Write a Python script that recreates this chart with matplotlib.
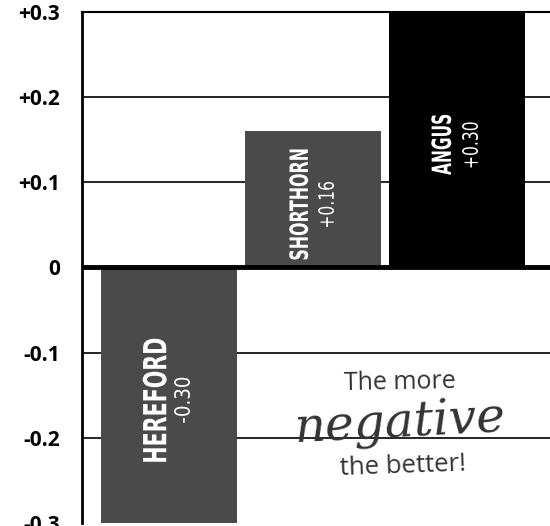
import matplotlib
matplotlib.use("Agg")
import matplotlib.pyplot as plt
from matplotlib.textpath import TextPath
from matplotlib.patches import PathPatch
from matplotlib.font_manager import FontProperties
from matplotlib.transforms import Affine2D, ScaledTranslation

# Breed EPD values
breeds = ["HEREFORD", "SHORTHORN", "ANGUS"]
values = [-0.30, 0.16, 0.30]
value_labels = ["-0.30", "+0.16", "+0.30"]
bar_colors = ["#4a4a4a", "#4a4a4a", "#000000"]

ytick_values = [0.3, 0.2, 0.1, 0.0, -0.1, -0.2, -0.3]
ytick_labels = ["+0.3", "+0.2", "+0.1", "0", "-0.1", "-0.2", "-0.3"]

fig = plt.figure(figsize=(5.5, 5.26), dpi=100)
ax = fig.add_axes([0.149, 0.006, 0.851, 0.971])

x = list(range(len(breeds)))

# grid lines behind bars
for yv in [0.2, 0.1, -0.1, -0.2]:
    ax.axhline(yv, color="black", lw=1.2, zorder=0)

ax.bar(x, values, width=0.945, color=bar_colors, zorder=2)

# zero line
ax.axhline(0, color="black", lw=3.5, zorder=3)

ax.set_xlim(-0.605, 2.645)
ax.set_ylim(-0.3, 0.3)


# condensed vertical text: squeeze a text path to a given length/height (pixels)
def narrow_text(xd, yd, s, length_px, height_px, weight="normal"):
    prop = FontProperties(family="DejaVu Sans", weight=weight)
    tp = TextPath((0, 0), s, size=10, prop=prop)
    bb = tp.get_extents()
    k = height_px / bb.height
    sx = length_px / (bb.width * k)
    tr = (Affine2D().translate(-(bb.x0 + bb.width / 2), -(bb.y0 + bb.height / 2))
          .scale(k * sx, k).rotate_deg(90)
          + ScaledTranslation(xd, yd, ax.transData))
    patch = PathPatch(tp, transform=tr, color="white", lw=0, zorder=4)
    ax.add_artist(patch)


name_len = {"HEREFORD": 123, "SHORTHORN": 110, "ANGUS": 60}
name_h = {"HEREFORD": 24, "SHORTHORN": 19, "ANGUS": 20}

# labels inside bars
for xi, name, val, vlab in zip(x, breeds, values, value_labels):
    off = -0.1 if name != "ANGUS" else -0.11
    ly = val / 2 - 0.006
    narrow_text(xi + off, ly, name, name_len[name], name_h[name], weight="bold")
    narrow_text(xi + 0.09, ly, vlab, 45, 16)

# annotation
ax.text(1.6, -0.135, "The more", ha="center", va="center", fontsize=18,
        color="#333333", family="Open Sans", rotation=1, zorder=4)
ax.text(1.6, -0.184, "negative", ha="center", va="center", fontsize=35,
        color="#333333", family="DejaVu Serif", style="italic", rotation=3,
        zorder=4)
ax.text(1.62, -0.233, "the better!", ha="center", va="center", fontsize=18.5,
        color="#333333", family="Open Sans", rotation=2, zorder=4)

ax.set_xticks([])
ax.set_yticks(ytick_values)
ax.set_yticklabels(ytick_labels, fontsize=15, fontweight="bold", family="Open Sans")
ax.tick_params(axis="y", length=0, pad=16)

ax.spines["right"].set_visible(False)
ax.spines["bottom"].set_visible(False)
ax.spines["left"].set_linewidth(2)
ax.spines["top"].set_linewidth(1.5)

plt.savefig("out.png", dpi=100)
